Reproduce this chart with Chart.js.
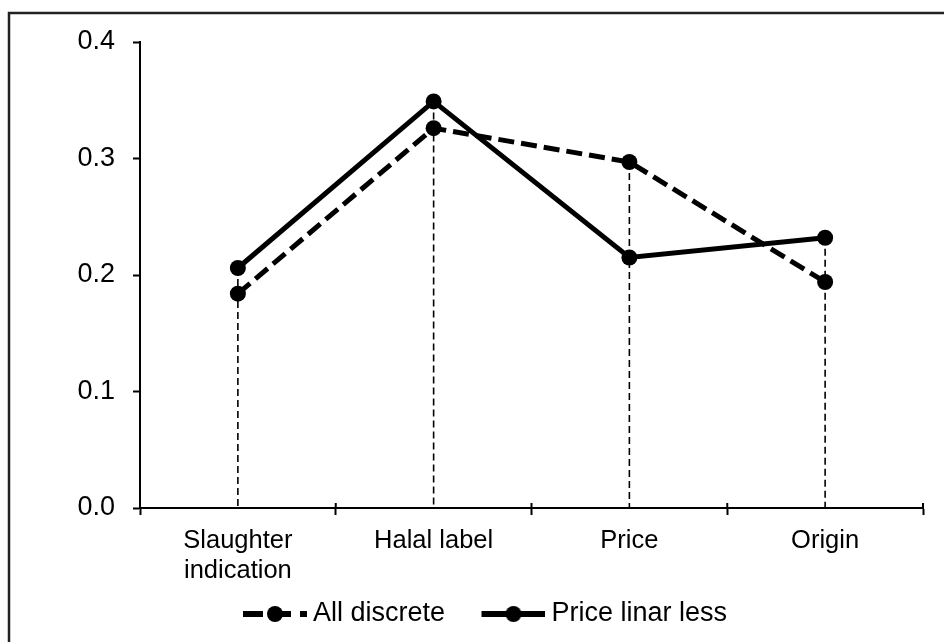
<!DOCTYPE html>
<html>
<head>
<meta charset="utf-8">
<script src="https://cdn.jsdelivr.net/npm/chart.js@4"></script>
<style>
  html, body { margin: 0; padding: 0; background: #fff; }
  #wrap { width: 944px; height: 642px; position: relative; }
</style>
</head>
<body>
<div id="wrap"><canvas id="c" width="944" height="642"></canvas></div>
<script>
// ---- data ----
const categories = [['Slaughter', 'indication'], 'Halal label', 'Price', 'Origin'];
const seriesNames = ['All discrete', 'Price linar less'];
const allDiscrete = [0.184, 0.326, 0.297, 0.194];
const priceLinarLess = [0.206, 0.349, 0.215, 0.232];
const yTicks = [0.0, 0.1, 0.2, 0.3, 0.4];

const FONT = '"Liberation Sans", Arial, sans-serif';

// legend symbols (line + marker), drawn at the right part of a wider canvas
function makeSymbol(dashed) {
  const c = document.createElement('canvas');
  c.width = 100; c.height = 20;
  const g = c.getContext('2d');
  const x0 = 36, cy = 10;
  g.fillStyle = '#000';
  if (dashed) {
    g.fillRect(x0, cy - 3, 20, 6);
    g.fillRect(x0 + 32, cy - 3, 16, 6);
    g.fillRect(x0 + 57, cy - 3, 7, 6);
  } else {
    g.fillRect(x0, cy - 3, 64, 6);
  }
  g.beginPath(); g.arc(x0 + 32, cy, 8, 0, Math.PI * 2); g.fill();
  return c;
}
const symbols = [makeSymbol(true), makeSymbol(false)];

const framePlugin = {
  id: 'frame',
  beforeDraw(chart) {
    const ctx = chart.ctx;
    ctx.save();
    ctx.strokeStyle = '#222';
    ctx.lineWidth = 2.5;
    ctx.strokeRect(9, 13, 1200, 1200);
    ctx.restore();
  }
};

const dropLines = {
  id: 'dropLines',
  beforeDatasetsDraw(chart) {
    const xs = chart.scales.x, ys = chart.scales.y, ctx = chart.ctx;
    ctx.save();
    ctx.strokeStyle = '#000';
    ctx.lineWidth = 1.6;
    ctx.setLineDash([7, 4]);
    for (let i = 0; i < categories.length; i++) {
      const top = Math.max(allDiscrete[i], priceLinarLess[i]);
      const x = xs.getPixelForValue(i);
      ctx.beginPath();
      ctx.moveTo(x, ys.getPixelForValue(top));
      ctx.lineTo(x, ys.getPixelForValue(0));
      ctx.stroke();
    }
    // upper half of the crossing category tick marks
    ctx.setLineDash([]);
    ctx.lineWidth = 2;
    const y0 = ys.getPixelForValue(0);
    for (let i = 0; i <= categories.length; i++) {
      const x = xs.getPixelForValue(i - 0.5);
      ctx.beginPath();
      ctx.moveTo(x, y0);
      ctx.lineTo(x, y0 - 5);
      ctx.stroke();
    }
    ctx.restore();
  }
};

new Chart(document.getElementById('c'), {
  type: 'line',
  data: {
    labels: categories,
    datasets: [
      {
        label: seriesNames[0],
        data: allDiscrete,
        borderColor: '#000',
        backgroundColor: '#000',
        borderWidth: 5,
        borderDash: [16, 7],
        pointRadius: 8,
        pointBorderWidth: 0,
        pointBackgroundColor: '#000',
        tension: 0,
        fill: false
      },
      {
        label: seriesNames[1],
        data: priceLinarLess,
        borderColor: '#000',
        backgroundColor: '#000',
        borderWidth: 5,
        pointRadius: 8,
        pointBorderWidth: 0,
        pointBackgroundColor: '#000',
        tension: 0,
        fill: false
      }
    ]
  },
  options: {
    responsive: false,
    animation: false,
    devicePixelRatio: 1,
    events: [],
    layout: { autoPadding: false, padding: { left: 18.5, right: 21, top: 42, bottom: 4.5 } },
    scales: {
      x: {
        offset: true,
        grid: { offset: true, drawOnChartArea: false, tickLength: 7, tickWidth: 2, tickColor: '#000' },
        border: { display: true, color: '#000', width: 2 },
        ticks: { color: '#000', font: { family: FONT, size: 25.5, lineHeight: 1.18 }, padding: 11, maxRotation: 0, autoSkip: false },
        afterFit(s) { s.height = 84.5; }
      },
      y: {
        min: 0, max: 0.4,
        afterBuildTicks(s) { s.ticks = yTicks.map(v => ({ value: v })); },
        grid: { drawOnChartArea: false, tickLength: 7, tickWidth: 2, tickColor: '#000' },
        border: { display: true, color: '#000', width: 2 },
        ticks: { color: '#000', font: { family: FONT, size: 27 }, padding: 18, callback: v => Number(v).toFixed(1) },
        afterFit(s) { s.width = 121.5; }
      }
    },
    plugins: {
      tooltip: { enabled: false },
      legend: {
        position: 'bottom',
        labels: {
          usePointStyle: true,
          pointStyleWidth: 85,
          padding: 8,
          color: '#000',
          font: { family: FONT, size: 27 },
          generateLabels(chart) {
            const base = Chart.defaults.plugins.legend.labels.generateLabels(chart);
            return base.map((it, i) => Object.assign(it, { pointStyle: symbols[i], fontColor: '#000' }));
          }
        }
      }
    }
  },
  plugins: [framePlugin, dropLines]
});
</script>
</body>
</html>
